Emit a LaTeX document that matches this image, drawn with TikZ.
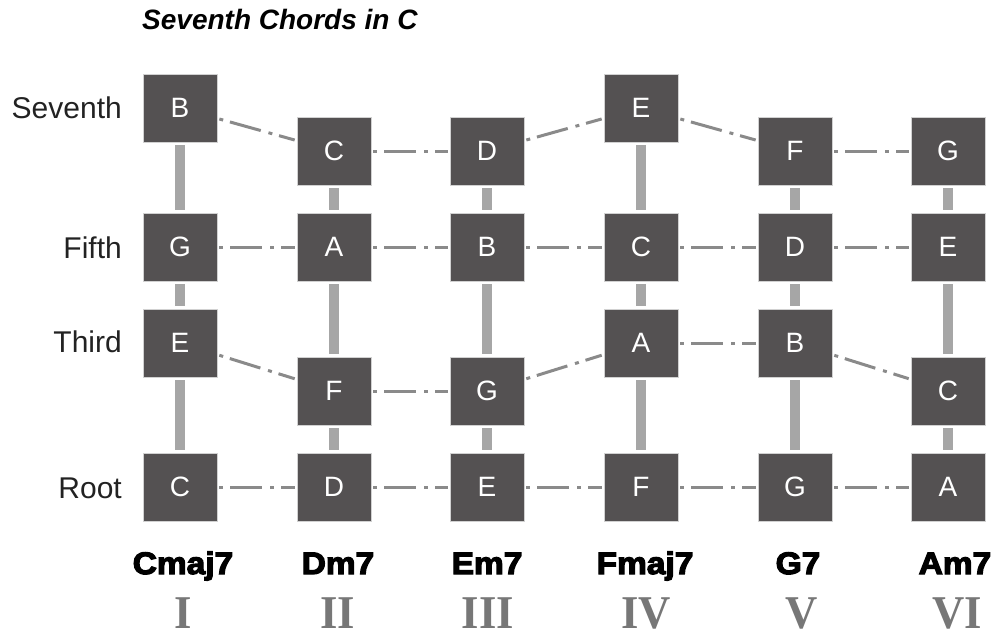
\documentclass[tikz,border=0pt]{standalone}
\usepackage{fontspec}
\setmainfont{Liberation Sans}
\newfontfamily\chordfont[FakeStretch=1.08,FakeBold=4]{Liberation Sans Bold}
\newfontfamily\romanfont[FakeStretch=0.95]{Liberation Serif Bold}
\definecolor{boxgray}{HTML}{545152}
\definecolor{bargray}{HTML}{A6A6A6}
\definecolor{linegray}{HTML}{8A8A8A}
\definecolor{romangray}{HTML}{777777}
\definecolor{labelink}{HTML}{222222}
\begin{document}
\begin{tikzpicture}[x=1pt,y=-1pt,
  notebox/.style={draw=black!18, line width=0.8pt, fill=boxgray,
    minimum width=74pt, minimum height=68pt, inner sep=0pt, text=white,
    font=\fontsize{28}{28}\selectfont},
  rowlabel/.style={anchor=base east, inner sep=0pt, text=labelink,
    font=\fontsize{30}{30}\selectfont},
  chordname/.style={anchor=base, inner sep=0pt, text=black,
    font=\chordfont\fontsize{31}{31}\selectfont},
  numeral/.style={anchor=base, inner sep=0pt, text=romangray,
    font=\romanfont\fontsize{47}{47}\selectfont},
  bar/.style={draw=bargray, line width=10pt, shorten <=3pt, shorten >=3pt},
  dd/.style={draw=linegray, line width=3pt,
    dash pattern=on 32pt off 8pt on 4pt off 7pt, dash phase=40pt,
    shorten <=2pt, shorten >=2pt},
]
\useasboundingbox (0,0) rectangle (994,634);

% title
\node[anchor=base west, inner sep=0pt,
  font=\bfseries\itshape\fontsize{28}{28}\selectfont] (title) at (142,30) {Seventh Chords in C};

% row labels
\node[rowlabel] (lseventh) at (122,118) {Seventh};
\node[rowlabel] (lfifth) at (122,258) {Fifth};
\node[rowlabel] (lthird) at (122,352) {Third};
\node[rowlabel] (lroot) at (122,498) {Root};

% column 1: Cmaj7
\node[notebox] (s1) at (180,108) {B};
\node[notebox] (f1) at (180,247) {G};
\node[notebox] (t1) at (180,343) {E};
\node[notebox] (r1) at (180,487) {C};
% column 2: Dm7
\node[notebox] (s2) at (334,151) {C};
\node[notebox] (f2) at (334,247) {A};
\node[notebox] (t2) at (334,391) {F};
\node[notebox] (r2) at (334,487) {D};
% column 3: Em7
\node[notebox] (s3) at (487,151) {D};
\node[notebox] (f3) at (487,247) {B};
\node[notebox] (t3) at (487,391) {G};
\node[notebox] (r3) at (487,487) {E};
% column 4: Fmaj7
\node[notebox] (s4) at (641,108) {E};
\node[notebox] (f4) at (641,247) {C};
\node[notebox] (t4) at (641,343) {A};
\node[notebox] (r4) at (641,487) {F};
% column 5: G7
\node[notebox] (s5) at (795,151) {F};
\node[notebox] (f5) at (795,247) {D};
\node[notebox] (t5) at (795,343) {B};
\node[notebox] (r5) at (795,487) {G};
% column 6: Am7
\node[notebox] (s6) at (948,151) {G};
\node[notebox] (f6) at (948,247) {E};
\node[notebox] (t6) at (948,391) {C};
\node[notebox] (r6) at (948,487) {A};

% vertical bars
\foreach \c in {1,...,6}{
  \draw[bar] (s\c) -- (f\c);
  \draw[bar] (f\c) -- (t\c);
  \draw[bar] (t\c) -- (r\c);
}

% dash-dot connectors along each row
\foreach \a/\b in {1/2,2/3,3/4,4/5,5/6}{
  \draw[dd] (s\a) -- (s\b);
  \draw[dd] (f\a) -- (f\b);
  \draw[dd] (t\a) -- (t\b);
  \draw[dd] (r\a) -- (r\b);
}

% chord names
\node[chordname] (n1) at (183,574) {Cmaj7};
\node[chordname] (n2) at (338,574) {Dm7};
\node[chordname] (n3) at (487,574) {Em7};
\node[chordname] (n4) at (645,574) {Fmaj7};
\node[chordname] (n5) at (798,574) {G7};
\node[chordname] (n6) at (955,574) {Am7};

% roman numerals
\node[numeral] (d1) at (183,628) {I};
\node[numeral] (d2) at (338,628) {II};
\node[numeral] (d3) at (488,628) {III};
\node[numeral] (d4) at (646,628) {IV};
\node[numeral] (d5) at (802,628) {V};
\node[numeral] (d6) at (957,628) {VI};
\end{tikzpicture}
\end{document}
